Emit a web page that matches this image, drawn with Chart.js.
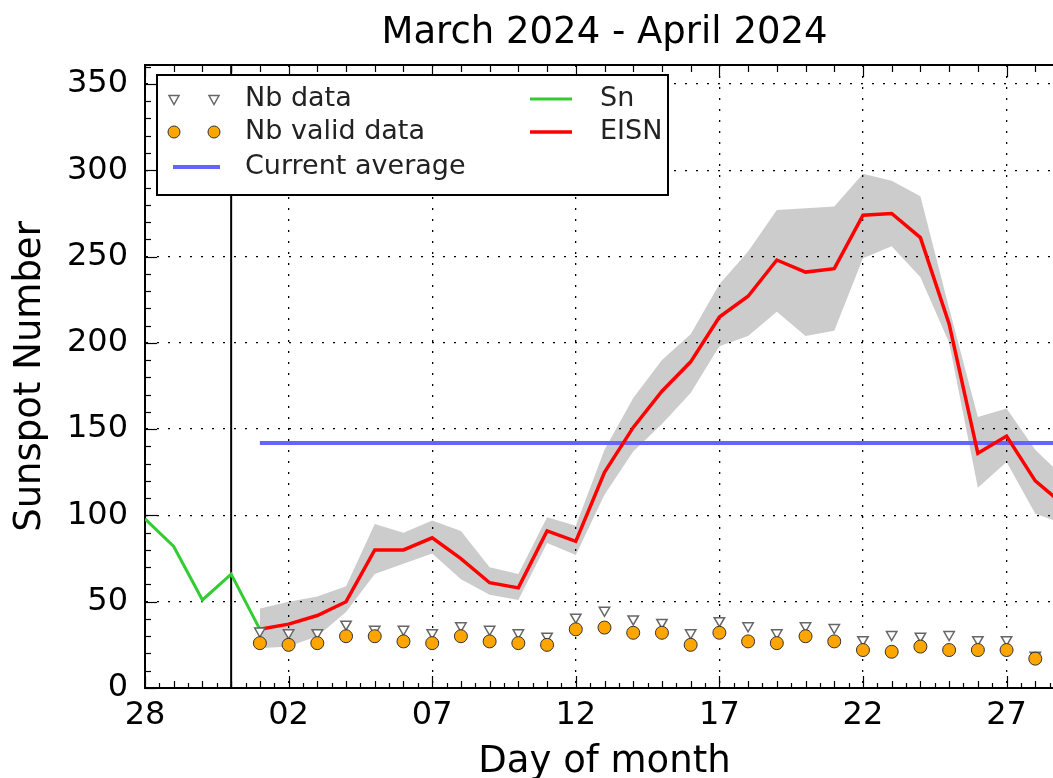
<!DOCTYPE html>
<html>
<head>
<meta charset="utf-8">
<script src="https://cdn.jsdelivr.net/npm/chart.js@4/dist/chart.umd.min.js"></script>
<style>
html,body{margin:0;padding:0;background:#fff;overflow:hidden;}
#wrap{width:1053px;height:778px;overflow:hidden;position:relative;}
canvas{display:block;}
</style>
</head>
<body>
<div id="wrap"><canvas id="c" width="1209" height="778"></canvas></div>
<script>
// ---------- texts ----------
const titleText = 'March 2024 - April 2024';
const xAxisTitle = 'Day of month';
const yAxisTitle = 'Sunspot Number';

// ---------- axes (day index 0 = 28 March) ----------
const xTickDays   = [0, 5, 10, 15, 20, 25, 30];
const xTickLabels = ['28', '02', '07', '12', '17', '22', '27'];
const yTickValues = [0, 50, 100, 150, 200, 250, 300, 350];
const xMin = 0, xMax = 32, yMin = 0, yMax = 361;

// ---------- Sn (end of previous month) ----------
const snDays   = [0, 1, 2, 3, 4];
const snValues = [98, 82, 51, 66, 34];

// ---------- EISN with its spread ----------
const eisnDays   = [4, 5, 6, 7, 8, 9, 10, 11, 12, 13, 14, 15, 16, 17, 18, 19, 20, 21, 22, 23, 24, 25, 26, 27, 28, 29, 30, 31, 32];
const eisnValues = [34, 37, 42, 50, 80, 80, 87, 75, 61, 58, 91, 85, 125, 151, 172, 189, 215, 227, 248, 241, 243, 274, 275, 261, 211, 136, 146, 120, 106];
const eisnUpper  = [46, 50, 53, 59, 95, 90, 97, 91, 70, 66, 99, 94, 138, 168, 190, 205, 234, 253, 277, 278, 279, 298, 294, 285, 220, 157, 162, 138, 122];
const eisnLower  = [23, 24, 30, 44, 66, 72, 78, 63, 54, 51, 84, 77, 112, 137, 153, 171, 198, 204, 218, 204, 207, 249, 256, 238, 200, 116, 131, 101, 95];

// ---------- station counts ----------
const nbDays      = [4, 5, 6, 7, 8, 9, 10, 11, 12, 13, 14, 15, 16, 17, 18, 19, 20, 21, 22, 23, 24, 25, 26, 27, 28, 29, 30, 31];
const nbData      = [33, 32, 32, 37, 34, 34, 32, 36, 34, 32, 30, 41, 45, 40, 38, 32, 39, 36, 32, 36, 35, 28, 31, 30, 31, 28, 28, 19];
const nbValidData = [26, 25, 26, 30, 30, 27, 26, 30, 27, 26, 25, 34, 35, 32, 32, 25, 32, 27, 26, 30, 27, 22, 21, 24, 22, 22, 22, 17];

// ---------- current average & month boundary ----------
const averageDays  = [4, 32];
const averageValue = [142, 142];
const boundaryDays  = [3, 3];
const boundaryValue = [0, 361];

const toXY = (xs, ys) => xs.map((x, i) => ({x: x, y: ys[i]}));

Chart.defaults.font.family = "'DejaVu Sans', sans-serif";
Chart.defaults.color = '#000';

const COL = {
  sn: '#33cc33', eisn: '#ff0000', avg: '#6464ff',
  band: 'rgba(0,0,0,0.2)', orange: '#ffa500', tri: '#666666'
};

// inward ticks, top spine, custom two-column legend
const decoPlugin = {
  id: 'deco',
  afterDraw(chart) {
    const ctx = chart.ctx, a = chart.chartArea;
    const xs = chart.scales.x, ys = chart.scales.y;
    ctx.save();
    ctx.strokeStyle = '#000';
    ctx.lineWidth = 2;
    ctx.beginPath(); ctx.moveTo(a.left, a.top); ctx.lineTo(a.right, a.top); ctx.stroke();
    ctx.lineWidth = 1.2;
    for (let v = yMin; v <= yMax; v += 10) {
      const y = Math.round(ys.getPixelForValue(v)) + 0.5;
      const len = (v % 50 === 0) ? 12 : 6;
      ctx.beginPath(); ctx.moveTo(a.left, y); ctx.lineTo(a.left + len, y); ctx.stroke();
    }
    for (let d = xMin; d <= xMax; d += 0.5) {
      const x = Math.round(xs.getPixelForValue(d)) + 0.5;
      const major = (d % 5 === 0);
      const lenB = major ? 12 : (d % 1 === 0 ? 7 : 5);
      ctx.beginPath(); ctx.moveTo(x, a.bottom); ctx.lineTo(x, a.bottom - lenB); ctx.stroke();
      if (d % 1 === 0) {
        const lenT = major ? 12 : 7;
        ctx.beginPath(); ctx.moveTo(x, a.top); ctx.lineTo(x, a.top + lenT); ctx.stroke();
      }
    }
    // legend
    const bx = 157, by = 75, bw = 511, bh = 120;
    ctx.fillStyle = '#fff';
    ctx.fillRect(bx, by, bw, bh);
    ctx.lineWidth = 2;
    ctx.strokeRect(bx, by, bw, bh);
    ctx.font = "27px 'DejaVu Sans'";
    ctx.textBaseline = 'middle';
    const rows = [99, 132, 167];
    const ds = chart.data.datasets;
    [174, 214].forEach(cx => {
      ctx.save();
      ctx.translate(cx, rows[0]);
      ctx.beginPath();
      ctx.moveTo(-5, -3.5); ctx.lineTo(5, -3.5); ctx.lineTo(0, 5.5); ctx.closePath();
      ctx.fillStyle = '#fff'; ctx.fill();
      ctx.strokeStyle = COL.tri; ctx.lineWidth = 1.5; ctx.stroke();
      ctx.restore();
    });
    [174, 214].forEach(cx => {
      ctx.beginPath(); ctx.arc(cx, rows[1], 6, 0, Math.PI * 2);
      ctx.fillStyle = COL.orange; ctx.fill();
      ctx.strokeStyle = '#333'; ctx.lineWidth = 1; ctx.stroke();
    });
    ctx.strokeStyle = COL.avg; ctx.lineWidth = 4;
    ctx.beginPath(); ctx.moveTo(173, rows[2]); ctx.lineTo(220, rows[2]); ctx.stroke();
    ctx.strokeStyle = COL.sn; ctx.lineWidth = 3;
    ctx.beginPath(); ctx.moveTo(530, rows[0]); ctx.lineTo(572, rows[0]); ctx.stroke();
    ctx.strokeStyle = COL.eisn; ctx.lineWidth = 3.5;
    ctx.beginPath(); ctx.moveTo(530, rows[1]); ctx.lineTo(572, rows[1]); ctx.stroke();
    ctx.fillStyle = '#222';
    ctx.fillText(ds[1].label, 245, rows[0]);
    ctx.fillText(ds[0].label, 245, rows[1]);
    ctx.fillText(ds[4].label, 245, rows[2]);
    ctx.fillText(ds[3].label, 600, rows[0]);
    ctx.fillText(ds[2].label, 600, rows[1]);
    ctx.restore();
  }
};

const gridCommon = {color: '#000', lineWidth: 1.3, drawTicks: false};
const borderCommon = {display: true, color: '#000', width: 2, dash: [2, 9]};

new Chart(document.getElementById('c'), {
  type: 'line',
  data: {
    datasets: [
      {label: 'Nb valid data', data: toXY(nbDays, nbValidData), showLine: false,
       pointStyle: 'circle', pointRadius: 6.5, pointBackgroundColor: COL.orange,
       pointBorderColor: '#333', pointBorderWidth: 1, order: 1},
      {label: 'Nb data', data: toXY(nbDays, nbData), showLine: false,
       pointStyle: 'triangle', pointRotation: 180, pointRadius: 6,
       pointBackgroundColor: '#fff', pointBorderColor: COL.tri, pointBorderWidth: 1.5, order: 2},
      {label: 'EISN', data: toXY(eisnDays, eisnValues), borderColor: COL.eisn,
       borderWidth: 3.5, pointRadius: 0, tension: 0, fill: false, order: 3},
      {label: 'Sn', data: toXY(snDays, snValues), borderColor: COL.sn,
       borderWidth: 3, pointRadius: 0, tension: 0, fill: false, order: 4},
      {label: 'Current average', data: toXY(averageDays, averageValue), borderColor: COL.avg,
       borderWidth: 4, pointRadius: 0, fill: false, order: 5},
      {label: 'month boundary', data: toXY(boundaryDays, boundaryValue), borderColor: '#000',
       borderWidth: 2, pointRadius: 0, fill: false, order: 6},
      {label: 'EISN upper', data: toXY(eisnDays, eisnUpper), borderWidth: 0, borderColor: 'rgba(0,0,0,0)',
       pointRadius: 0, fill: false, order: 8},
      {label: 'EISN lower', data: toXY(eisnDays, eisnLower), borderWidth: 0, borderColor: 'rgba(0,0,0,0)',
       pointRadius: 0, fill: '-1', backgroundColor: COL.band, order: 7}
    ]
  },
  options: {
    responsive: false,
    animation: false,
    devicePixelRatio: 1,
    layout: {padding: 0},
    plugins: {
      legend: {display: false},
      tooltip: {enabled: false},
      title: {display: true, text: titleText, color: '#000',
              font: {size: 37, weight: 'normal', lineHeight: 1.2},
              padding: {top: 11, bottom: 9.6}}
    },
    scales: {
      x: {
        type: 'linear', min: xMin, max: xMax,
        afterBuildTicks: s => { s.ticks = xTickDays.map(v => ({value: v})); },
        afterFit: s => { s.height = 90; },
        ticks: {autoSkip: false, maxRotation: 0, padding: 8, font: {size: 32},
                callback: (v, i) => xTickLabels[i]},
        grid: gridCommon, border: borderCommon,
        title: {display: true, text: xAxisTitle, font: {size: 37, lineHeight: 0.85},
                padding: {top: 0, bottom: 0}}
      },
      y: {
        type: 'linear', min: yMin, max: yMax,
        afterBuildTicks: s => { s.ticks = yTickValues.map(v => ({value: v})); },
        afterFit: s => { s.width = 145; },
        ticks: {autoSkip: false, padding: 17, font: {size: 32}},
        grid: gridCommon, border: borderCommon,
        title: {display: true, text: yAxisTitle, font: {size: 37, lineHeight: 1},
                padding: {top: 11.5, bottom: 0}}
      },
      yRight: {
        type: 'linear', position: 'right', display: true,
        afterFit: s => { s.width = 145; },
        ticks: {display: false}, grid: {display: false}, border: {display: false}
      }
    }
  },
  plugins: [decoPlugin]
});
</script>
</body>
</html>
